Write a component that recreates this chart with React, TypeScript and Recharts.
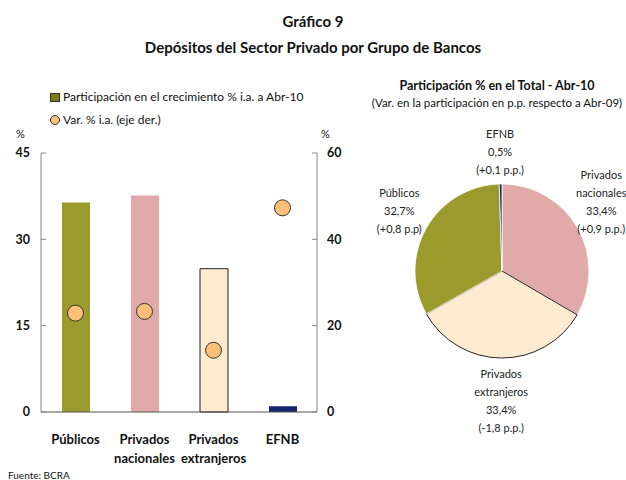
import React from 'react';
import { ComposedChart, Bar, Scatter, XAxis, YAxis, Cell, PieChart, Pie } from 'recharts';

// Bars / dots (left panel)
const groups = ['Públicos', 'Privados nacionales', 'Privados extranjeros', 'EFNB'];
const groupLines = [['Públicos'], ['Privados', 'nacionales'], ['Privados', 'extranjeros'], ['EFNB']];
const participacion = [36.4, 37.6, 24.9, 1.0];
const varIa = [22.9, 23.3, 14.3, 47.3];
const barColors = ['#9A9B2C', '#E1AAA9', '#FDEBD1', '#13246A'];
const leftTicks = [0, 15, 30, 45];
const rightTicks = [0, 20, 40, 60];

// Pie (right panel), clockwise from 12 o'clock
const pieNames = [['Privados', 'nacionales'], ['Privados', 'extranjeros'], ['Públicos'], ['EFNB']];
const pieShare = [33.4, 33.4, 32.7, 0.5];
const pieShareLabel = ['33,4%', '33,4%', '32,7%', '0,5%'];
const pieChange = ['(+0,9 p.p.)', '(-1,8 p.p.)', '(+0,8 p.p)', '(+0,1 p.p.)'];
const pieColors = ['#E1AAA9', '#FDEBD1', '#9A9B2C', '#13246A'];
// label distance beyond the rim and small angle nudge per slice
const labelOffset = [34, 43, 32, 32];
const labelTurn = [5, 0, -1, 0];

const FONT = 'Lato, "Open Sans", sans-serif';

const barData = groups.map((g, i) => ({ name: g, part: participacion[i], varia: varIa[i] }));
const pieData = pieNames.map((n, i) => ({ name: n.join(' '), value: pieShare[i] }));

const CategoryTick = (props: any) => {
  const { x, y, index } = props;
  const lines = groupLines[index] || [];
  return (
    <g>
      {lines.map((l, k) => (
        <text key={k} x={x} y={y + 24 + k * 19} textAnchor="middle" fontFamily={FONT} fontWeight={700} fontSize={13} fill="#111">
          {l}
        </text>
      ))}
    </g>
  );
};

const pieLabel = (props: any) => {
  const { cx, cy, midAngle, outerRadius, index } = props;
  const RAD = Math.PI / 180;
  const r = outerRadius + labelOffset[index];
  const a = (midAngle + labelTurn[index]) * RAD;
  const px = cx + r * Math.cos(-a);
  const py = cy + r * Math.sin(-a);
  const lines = [...pieNames[index], pieShareLabel[index], pieChange[index]];
  const lh = 18;
  const y0 = py - ((lines.length - 1) * lh) / 2;
  return (
    <g>
      {lines.map((l, k) => (
        <text key={k} x={px} y={y0 + k * lh} dy="0.35em" textAnchor="middle" fontFamily={FONT} fontSize={11} fill="#222">
          {l}
        </text>
      ))}
    </g>
  );
};

const abs = (left: number, top: number, extra: React.CSSProperties = {}): React.CSSProperties => ({
  position: 'absolute', left, top, fontFamily: FONT, color: '#111', whiteSpace: 'nowrap', ...extra,
});

export default function App() {
  return (
    <div style={{ position: 'absolute', left: 0, top: 0, width: 626, height: 480, background: '#fff', fontFamily: FONT }}>
      <div style={abs(0, 12, { width: 626, textAlign: 'center', fontWeight: 700, fontSize: 15 })}>Gráfico 9</div>
      <div style={abs(0, 38, { width: 626, textAlign: 'center', fontWeight: 700, fontSize: 15 })}>
        Depósitos del Sector Privado por Grupo de Bancos
      </div>

      {/* legend */}
      <div style={abs(50, 93, { width: 10, height: 9, background: '#7A7D12', border: '1px solid #333', boxSizing: 'border-box' })} />
      <div style={abs(63, 89, { fontSize: 12 })}>Participación en el crecimiento % i.a. a Abr-10</div>
      <div style={abs(50, 115, { width: 10, height: 10, borderRadius: 5, background: '#FBBF77', border: '1px solid #333', boxSizing: 'border-box' })} />
      <div style={abs(63, 112, { fontSize: 12 })}>Var. % i.a. (eje der.)</div>
      <div style={abs(16, 127, { fontSize: 11 })}>%</div>
      <div style={abs(321, 127, { fontSize: 11 })}>%</div>

      <div style={{ position: 'absolute', left: 0, top: 0 }}>
        <ComposedChart width={350} height={470} data={barData} margin={{ top: 153, right: 13, bottom: 8, left: 5 }}>
          <XAxis
            dataKey="name"
            height={50}
            tickLine={false}
            axisLine={{ stroke: '#555', strokeWidth: 1.2 }}
            tick={<CategoryTick />}
            interval={0}
          />
          <YAxis
            yAxisId="left"
            domain={[0, 45]}
            ticks={leftTicks}
            width={36}
            tickSize={-5}
            tickMargin={16}
            axisLine={{ stroke: '#888' }}
            tickLine={{ stroke: '#888' }}
            tick={{ fontFamily: FONT, fontWeight: 700, fontSize: 12.5, fill: '#111' }}
          />
          <YAxis
            yAxisId="right"
            orientation="right"
            domain={[0, 60]}
            ticks={rightTicks}
            width={20}
            tickSize={-5}
            tickMargin={15}
            axisLine={{ stroke: '#888' }}
            tickLine={{ stroke: '#888' }}
            tick={{ fontFamily: FONT, fontWeight: 700, fontSize: 12.5, fill: '#111' }}
          />
          <Bar yAxisId="left" dataKey="part" barSize={28} isAnimationActive={false}>
            {barData.map((_, i) => (
              <Cell key={i} fill={barColors[i]} stroke={i === 2 ? '#222' : 'none'} strokeWidth={1} />
            ))}
          </Bar>
          <Scatter
            yAxisId="right"
            dataKey="varia"
            isAnimationActive={false}
            shape={(p: any) => <circle cx={p.cx} cy={p.cy} r={8} fill="#FBBF77" stroke="#333" strokeWidth={1} />}
          />
        </ComposedChart>
      </div>

      {/* pie panel */}
      <div style={abs(357, 78, { width: 280, textAlign: 'center', fontWeight: 700, fontSize: 12.5 })}>
        Participación % en el Total - Abr-10
      </div>
      <div style={abs(347, 96, { width: 300, textAlign: 'center', fontSize: 11.5 })}>
        (Var. en la participación en p.p. respecto a Abr-09)
      </div>
      <div style={{ position: 'absolute', left: 340, top: 107 }}>
        <PieChart width={286} height={330}>
          <Pie
            data={pieData}
            dataKey="value"
            cx={157}
            cy={159}
            outerRadius={87}
            startAngle={90}
            endAngle={-270}
            label={pieLabel}
            labelLine={false}
            stroke="#fff"
            strokeWidth={0.8}
            isAnimationActive={false}
          >
            {pieData.map((_, i) => (
              <Cell key={i} fill={pieColors[i]} stroke={i === 1 ? '#222' : '#fff'} strokeWidth={i === 1 ? 1 : 0.8} />
            ))}
          </Pie>
        </PieChart>
      </div>

      <div style={abs(8, 469, { fontSize: 10 })}>Fuente: BCRA</div>
    </div>
  );
}
